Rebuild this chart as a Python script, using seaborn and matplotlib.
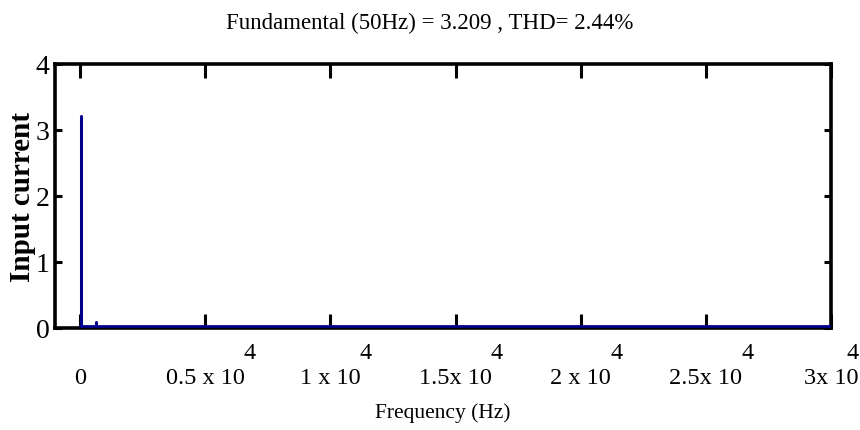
import matplotlib
matplotlib.use("Agg")
import matplotlib.pyplot as plt
import seaborn as sns
import pandas as pd

# ---- data ----
harm_freq = [50, 650]          # Hz
harm_mag = [3.209, 0.09]
floor_freq = [0, 30000]        # low-level spectrum floor
floor_mag = [0.035, 0.035]
xtick_vals = [0, 5000, 10000, 15000, 20000, 25000, 30000]
xtick_text = ["0", "0.5 x 10", "1 x 10", "1.5x 10", "2 x 10", "2.5x 10", "3x 10"]
xtick_exp = ["", "4", "4", "4", "4", "4", "4"]
ytick_vals = [0, 1, 2, 3, 4]
title_text = "Fundamental (50Hz) = 3.209 , THD= 2.44%"

sns.set_style("ticks")
plt.rcParams["font.family"] = ["Liberation Serif", "DejaVu Serif"]
plt.rcParams["text.color"] = "black"
plt.rcParams["axes.labelcolor"] = "black"
plt.rcParams["xtick.color"] = "black"
plt.rcParams["ytick.color"] = "black"

fig = plt.figure(figsize=(8.6, 4.31), dpi=100)
ax = fig.add_axes([55/860, 1-329/431, (831-55)/860, (329-65)/431])

navy = "#00008B"
# stems for the harmonics (each stem goes from 0 up to its magnitude)
stem_rows = []
for i, (f, m) in enumerate(zip(harm_freq, harm_mag)):
    stem_rows.append({"f": f, "m": 0.0, "h": i, "k": 0})
    stem_rows.append({"f": f, "m": m, "h": i, "k": 1})
stems = pd.DataFrame(stem_rows)
sns.lineplot(data=stems, x="f", y="m", units="h", estimator=None, sort=False,
             ax=ax, color=navy, linewidth=2.2, zorder=3)
floor = pd.DataFrame({"f": floor_freq, "m": floor_mag})
sns.lineplot(data=floor, x="f", y="m", estimator=None, ax=ax, color=navy,
             linewidth=2.0, zorder=3)

ax.set_xlim(-1000, 30000)
ax.set_ylim(0, 4)
ax.set_xticks(xtick_vals)
ax.set_xticklabels(xtick_text)
ax.set_yticks(ytick_vals)
ax.set_yticklabels([str(v) for v in ytick_vals])

for s in ax.spines.values():
    s.set_linewidth(2.6)
    s.set_color("black")
    s.set_visible(True)

ax.tick_params(axis="x", direction="in", length=10, width=2.2, pad=28,
               labelsize=17.5, top=True, bottom=True, colors="black")
ax.tick_params(axis="y", direction="in", length=5, width=2.2, pad=4,
               labelsize=20, left=True, right=True, colors="black")

ax.set_xlabel("Frequency (Hz)", fontsize=15.5, labelpad=10)
ax.set_ylabel("Input current", fontsize=21, fontweight="bold", labelpad=0)
fig.text(0.5, 1-23/431, title_text, ha="center", va="center", fontsize=16.5)

# exponents of the tick labels
fig.canvas.draw()
W, H = fig.get_size_inches() * fig.dpi
renderer = fig.canvas.get_renderer()
for lab, ex in zip(ax.get_xticklabels(), xtick_exp):
    if not ex:
        continue
    bb = lab.get_window_extent()
    t = fig.text((bb.x1 - 1) / W, (bb.y1 + 4) / H, ex, ha="left", va="bottom",
                 fontsize=17.5)
    tb = t.get_window_extent(renderer)
    if tb.x1 > W - 1:
        t.set_x((W - 1 - tb.width) / W)

fig.savefig("out.png", dpi=100)
